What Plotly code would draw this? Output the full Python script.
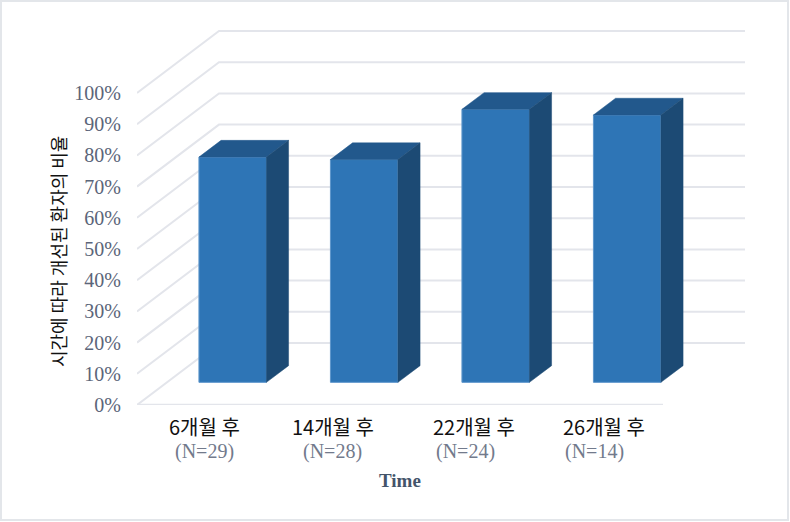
import plotly.graph_objects as go

categories = ["6개월 후", "14개월 후", "22개월 후", "26개월 후"]
sample_sizes = ["(N=29)", "(N=28)", "(N=24)", "(N=14)"]
improved_pct = [72.2, 71.4, 87.5, 85.7]
tick_vals = [0, 10, 20, 30, 40, 50, 60, 70, 80, 90, 100]
tick_text = ["0%", "10%", "20%", "30%", "40%", "50%", "60%", "70%", "80%", "90%", "100%"]
y_title = "시간에 따라 개선된 환자의 비율"
x_title = "Time"

# label boxes in the original were placed by hand, so they are not quite centred
name_centers = [204, 333, 474, 604]
n_centers = [204, 332, 466, 594]

W, H = 790, 522
LEFT, RIGHT, TOP, BOTTOM = 137, 745, 30, 405
PX_CAT = 131.5
PX_PCT = 3.12

# the fake 3d depth, in axis units
DEPTH_X = 82 / PX_CAT
DEPTH_Y = 62 / PX_PCT
BAR_Z = 0.365      # how far back on the floor the bars stand
BAR_DEPTH = 0.27   # how deep the bars are
BAR_W = 67.5 / PX_CAT

FRONT = "#2e75b6"
TOP_FACE = "#22588c"
SIDE = "#1c4a74"
EDGE = "#5f97cc"
GRID = "#e3e5eb"
SERIF = "Liberation Serif"
KOREAN = "Noto Sans CJK KR"


def px_x(x):
    return (x - LEFT) / (RIGHT - LEFT)


def px_y(y):
    return (BOTTOM - y) / (BOTTOM - TOP)


def project(x, val, z):
    return x + z * DEPTH_X, val + z * DEPTH_Y


def label(text, x, y, **kw):
    fig.add_annotation(text=text, xref="paper", yref="paper", x=px_x(x), y=px_y(y),
                       xanchor="center", yanchor="middle", showarrow=False, **kw)


fig = go.Figure()

xs = list(range(len(categories)))
fig.add_trace(go.Bar(
    x=[i + BAR_Z * DEPTH_X for i in xs],
    y=improved_pct,
    base=BAR_Z * DEPTH_Y,
    width=BAR_W,
    marker=dict(color=FRONT, line=dict(color=EDGE, width=1)),
    hoverinfo="skip",
))

for i, v in zip(xs, improved_pct):
    x0, x1 = i - BAR_W / 2, i + BAR_W / 2
    z0, z1 = BAR_Z, BAR_Z + BAR_DEPTH
    top = [project(x0, v, z0), project(x1, v, z0), project(x1, v, z1), project(x0, v, z1)]
    side = [project(x1, 0, z0), project(x1, v, z0), project(x1, v, z1), project(x1, 0, z1)]
    for pts, col in ((top, TOP_FACE), (side, SIDE)):
        fig.add_trace(go.Scatter(
            x=[p[0] for p in pts] + [pts[0][0]],
            y=[p[1] for p in pts] + [pts[0][1]],
            mode="lines", fill="toself", fillcolor=col,
            line=dict(color=col, width=0.5), hoverinfo="skip",
        ))

x_start = -0.5
x_end = x_start + (RIGHT - LEFT) / PX_CAT
x_floor_end = x_start + len(categories)

# walls and floor, drawn under the bars
for t in tick_vals:
    bx, by = project(x_start, t, 1)
    ex, ey = project(x_floor_end, t, 1)
    fig.add_shape(type="path", layer="below", line=dict(color=GRID, width=2),
                  path=f"M {x_start} {t} L {bx} {by} L {ex} {ey}")
fig.add_shape(type="line", layer="below", line=dict(color=GRID, width=2.5),
              x0=x_start, x1=x_floor_end, y0=0, y1=0)

# outer frame of the picture
fig.add_shape(type="rect", xref="paper", yref="paper", layer="below",
              x0=px_x(1), x1=px_x(788), y0=px_y(520), y1=px_y(1),
              line=dict(color="#e3e6ea", width=2))

for name, cx, n, nx in zip(categories, name_centers, sample_sizes, n_centers):
    label(name, cx, 426, font=dict(family=KOREAN, size=20, color="#111111"))
    label(n, nx, 451, font=dict(family=SERIF, size=20, color="#727a8c"))

label(f"<b>{x_title}</b>", 400, 481, font=dict(family=SERIF, size=19, color="#44546a"))
label(y_title, 58, 252, textangle=-90, font=dict(family=KOREAN, size=18, color="#111111"))

fig.update_layout(
    width=W, height=H,
    margin=dict(l=LEFT, r=W - RIGHT, t=TOP, b=H - BOTTOM, pad=0),
    paper_bgcolor="white", plot_bgcolor="rgba(0,0,0,0)",
    showlegend=False,
    xaxis=dict(range=[x_start, x_end], visible=False),
    yaxis=dict(range=[0, (BOTTOM - TOP) / PX_PCT], tickvals=tick_vals, ticktext=tick_text,
               showgrid=False, zeroline=False, showline=False,
               ticks="outside", ticklen=11, tickcolor="rgba(0,0,0,0)",
               tickfont=dict(family=SERIF, size=20, color="#5b6579")),
)

fig.write_html("out.html", config={"displayModeBar": False},
               post_script="document.body.style.margin='0';document.body.style.overflow='hidden';")
